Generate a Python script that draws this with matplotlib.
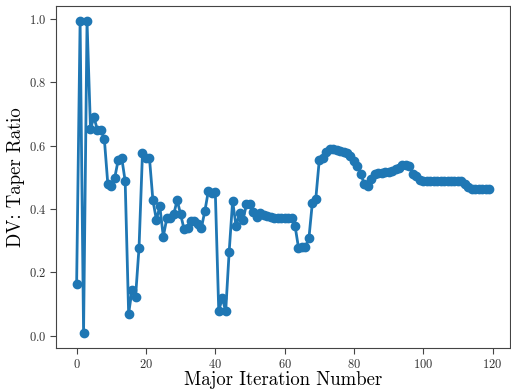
import numpy as np
import matplotlib
matplotlib.use("Agg")
import matplotlib.pyplot as plt

plt.rcParams['font.family'] = 'serif'
plt.rcParams['font.serif'] = ['cmr10']
plt.rcParams['mathtext.fontset'] = 'cm'
plt.rcParams['axes.formatter.use_mathtext'] = True

# taper ratio at each major iteration
taper = [
    0.163, 0.992, 0.010, 0.992, 0.653, 0.690, 0.649, 0.649, 0.620, 0.478,
    0.473, 0.499, 0.555, 0.562, 0.488, 0.070, 0.145, 0.123, 0.278, 0.578,
    0.560, 0.562, 0.428, 0.366, 0.408, 0.313, 0.370, 0.370, 0.383, 0.428,
    0.383, 0.336, 0.341, 0.362, 0.362, 0.352, 0.341, 0.394, 0.457, 0.452,
    0.455, 0.077, 0.120, 0.077, 0.265, 0.425, 0.345, 0.387, 0.366, 0.415,
    0.415, 0.389, 0.376, 0.387, 0.381, 0.378, 0.375, 0.373, 0.372, 0.371,
    0.371, 0.371, 0.370, 0.347, 0.278, 0.280, 0.280, 0.307, 0.420, 0.433,
    0.555, 0.562, 0.580, 0.588, 0.590, 0.585, 0.582, 0.580, 0.577, 0.567,
    0.552, 0.535, 0.510, 0.478, 0.473, 0.494, 0.510, 0.513, 0.515, 0.516,
    0.518, 0.520, 0.525, 0.530, 0.538, 0.540, 0.536, 0.510, 0.503, 0.490,
    0.487, 0.487, 0.487, 0.487, 0.487, 0.487, 0.487, 0.487, 0.487, 0.487,
    0.487, 0.487, 0.478, 0.470, 0.463, 0.462, 0.462, 0.462, 0.462, 0.462,
]
iters = np.arange(len(taper))

fig = plt.figure(figsize=(5.11, 3.92), dpi=100)
ax = fig.add_axes([0.1096, 0.112, 0.888, 0.873])
ax.plot(iters, taper, marker='o', color='#1f77b4', linewidth=2, markersize=6)

ax.set_xlabel('Major Iteration Number', fontsize=13.5, labelpad=0)
ax.set_ylabel('DV: Taper Ratio', fontsize=13.5, labelpad=3)
ax.set_xticks([0, 20, 40, 60, 80, 100, 120])
ax.set_yticks([0.0, 0.2, 0.4, 0.6, 0.8, 1.0])
ax.tick_params(labelsize=9, length=4, pad=3, colors='#444444', labelcolor='#333333')
for s in ax.spines.values():
    s.set_color('#444444')

fig.savefig('out.png', dpi=100)
